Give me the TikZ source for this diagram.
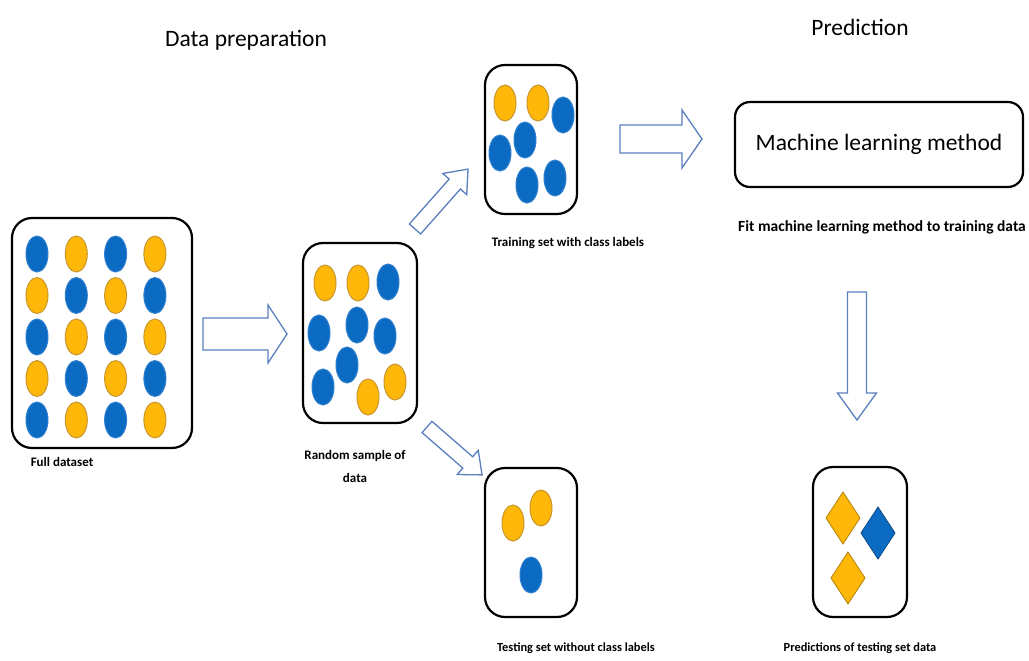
\documentclass[tikz,border=0pt]{standalone}
\usepackage{fontspec}
\setmainfont{Carlito}
\usetikzlibrary{positioning}
\definecolor{dotblue}{HTML}{0B6BC2}
\definecolor{blueedge}{HTML}{2F7FD0}
\definecolor{dotgold}{HTML}{FFB80A}
\definecolor{goldedge}{HTML}{C8962C}
\definecolor{arrowedge}{HTML}{5A7FBF}
\newcommand{\bluedot}[2]{\filldraw[fill=dotblue, draw=blueedge, line width=1pt] (#1,#2) ellipse (11pt and 18pt);} % blue sample
\newcommand{\golddot}[2]{\filldraw[fill=dotgold, draw=goldedge, line width=1pt] (#1,#2) ellipse (11pt and 18pt);} % orange sample
\newcommand{\gem}[3]{ % #1,#2: centre, #3: colour of the predicted class
  \filldraw[fill=#3, draw=#3!70!black, line width=0.8pt, shift={(#1,#2)}] (-17,0) -- (0,-26) -- (17,0) -- (0,26) -- cycle;
}
\newcommand{\blockarrow}[7]{ % #1,#2: tail, #3: angle, #4: length, #5: shaft half width, #6: head half width, #7: head length
  \draw[arrowline, shift={(#1,#2)}, rotate=#3] (0,-#5) -- (#4-#7,-#5) -- (#4-#7,-#6) -- (#4,0) -- (#4-#7,#6) -- (#4-#7,#5) -- (0,#5) -- cycle;
}
\tikzset{
  setbox/.style={draw=black, line width=2.2pt, rounded corners=20pt, fill=white},
  arrowline/.style={draw=arrowedge, line width=1.3pt, fill=white, line join=miter},
  caption/.style={font=\fontsize{13}{23}\selectfont\bfseries, align=center},
  heading/.style={font=\fontsize{23.5}{27}\selectfont}
}

\begin{document}
\begin{tikzpicture}[x=1pt, y=-1pt]
\useasboundingbox (0,0) rectangle (1029,661);

% Titles
\node[heading] (prep) at (246,40) {Data preparation};
\node[heading] (pred title) at (860,27) {Prediction};

% Full dataset
\node[setbox, minimum width=180pt, minimum height=230pt] (full) at (102,333) {};
\foreach \r in {0,...,4}
  \foreach \c in {0,...,3}
  {
    \pgfmathtruncatemacro\k{mod(\r+\c,2)}
    \ifnum\k=0 \bluedot{37+39.3*\c}{254+41.5*\r}\else\golddot{37+39.3*\c}{254+41.5*\r}\fi
  }
\node[caption] (full label) at (62,462) {Full dataset};

% Random sample
\node[setbox, minimum width=114pt, minimum height=180pt] (sample) at (360,333) {};
\golddot{325}{283} \golddot{358}{283} \bluedot{388}{282}
\bluedot{319}{333} \bluedot{357}{325} \bluedot{385}{336}
\bluedot{347}{365} \bluedot{323}{387}
\golddot{368}{397} \golddot{395}{382}
\node[caption] (sample label) at (355,466) {Random sample of\\data};

% Training set
\node[setbox, minimum width=92pt, minimum height=149pt] (train) at (531,139.5) {};
\golddot{505}{103} \golddot{538}{103} \bluedot{563}{115}
\bluedot{525}{140} \bluedot{500}{153}
\bluedot{527}{185} \bluedot{555}{178}
\node[caption] (train label) at (568,243) {Training set with class labels};

% Testing set
\node[setbox, minimum width=92pt, minimum height=149pt] (test) at (531,542.5) {};
\golddot{513}{523} \golddot{541}{508} \bluedot{531}{575}
\node[caption, font=\fontsize{12.4}{15}\selectfont\bfseries] (test label) at (576,648) {Testing set without class labels};

% Machine learning method
\node[setbox, rounded corners=15pt, minimum width=288pt, minimum height=85pt, font=\fontsize{23.5}{28}\selectfont] (ml) at (879,144.5) {Machine learning method};
\node[caption, font=\fontsize{15.5}{18}\selectfont\bfseries] (fit label) at (882,227) {Fit machine learning method to training data};

% Predictions
\node[setbox, minimum width=94pt, minimum height=150pt] (pred) at (860,542) {};
\gem{843}{518}{dotgold}
\gem{878}{533}{dotblue}
\gem{848}{578}{dotgold}
\node[caption, font=\fontsize{12.4}{15}\selectfont\bfseries] (pred label) at (860,648) {Predictions of testing set data};

% Block arrows
\blockarrow{203}{334}{0}{84}{16}{29}{19}
\blockarrow{415}{229}{48.5}{80}{7.5}{16}{20}
\blockarrow{427}{427}{-41}{73}{7.5}{16}{19}
\blockarrow{620}{139}{0}{82}{14}{29}{20}
\blockarrow{857}{292}{-90}{128}{9.5}{19.5}{27}

\end{tikzpicture}
\end{document}
